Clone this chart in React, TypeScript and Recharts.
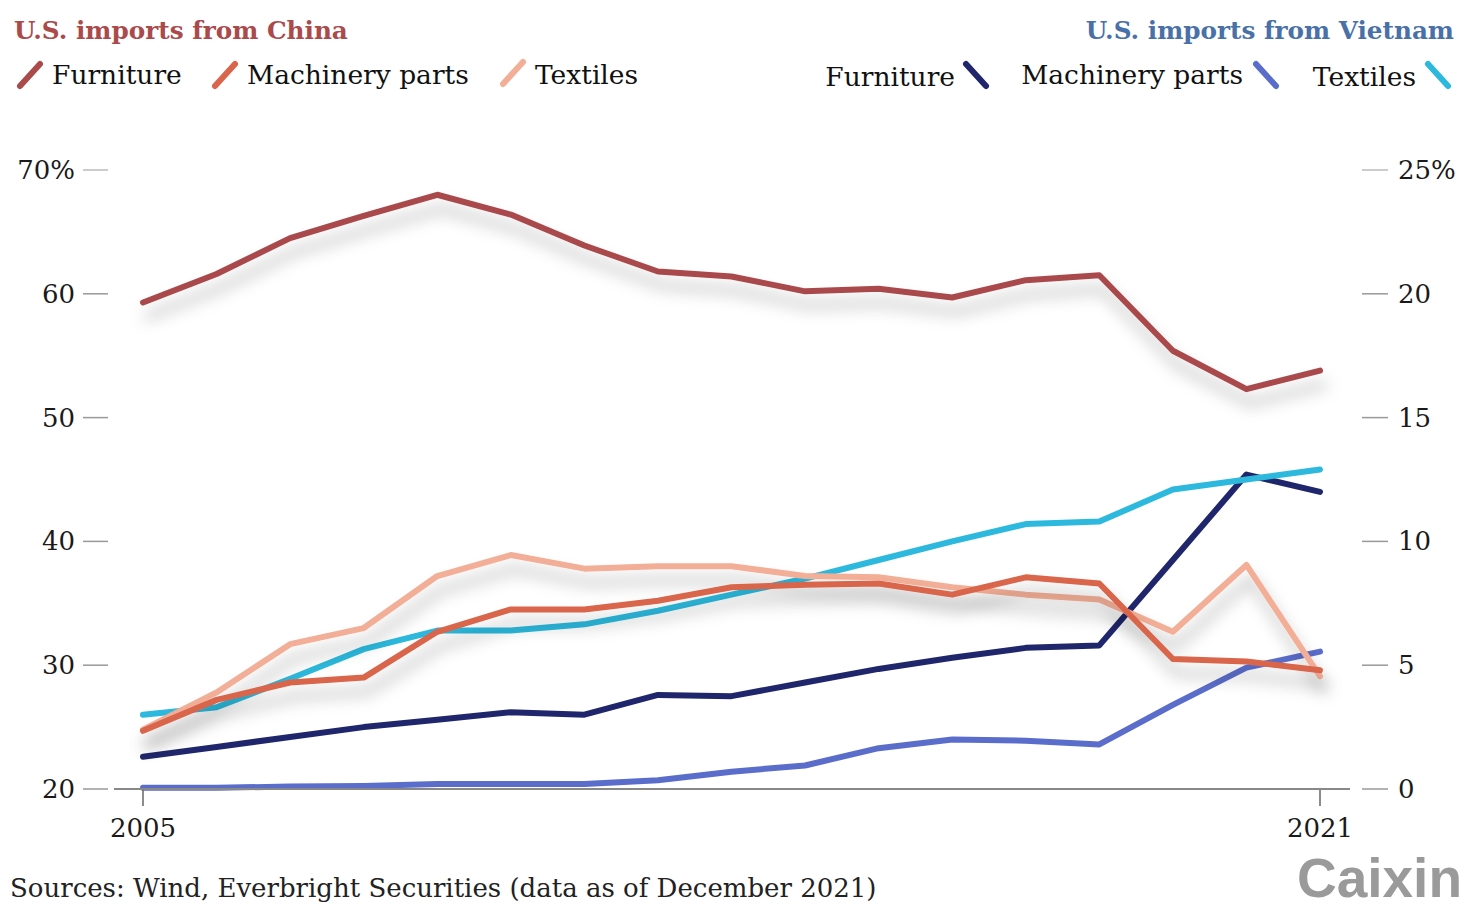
import React from 'react';
import { LineChart, Line, XAxis, YAxis } from 'recharts';

const years = [2005, 2006, 2007, 2008, 2009, 2010, 2011, 2012, 2013, 2014, 2015, 2016, 2017, 2018, 2019, 2020, 2021];

// U.S. imports from China (left axis, %)
const chinaFurniture = [59.3, 61.6, 64.5, 66.3, 68.0, 66.4, 63.9, 61.8, 61.4, 60.2, 60.4, 59.7, 61.1, 61.5, 55.4, 52.3, 53.8];
const chinaMachinery = [24.7, 27.2, 28.6, 29.0, 32.7, 34.5, 34.5, 35.2, 36.3, 36.5, 36.6, 35.7, 37.1, 36.6, 30.5, 30.3, 29.6];
const chinaTextiles = [24.8, 27.8, 31.7, 33.0, 37.2, 38.9, 37.8, 38.0, 38.0, 37.2, 37.1, 36.3, 35.7, 35.3, 32.7, 38.1, 29.1];

// U.S. imports from Vietnam (right axis, %)
const vnFurniture = [1.3, 1.7, 2.1, 2.5, 2.8, 3.1, 3.0, 3.8, 3.75, 4.3, 4.85, 5.3, 5.7, 5.8, 9.25, 12.7, 12.0];
const vnMachinery = [0.05, 0.05, 0.1, 0.12, 0.2, 0.2, 0.2, 0.35, 0.7, 0.95, 1.65, 2.0, 1.95, 1.8, 3.4, 4.9, 5.55];
const vnTextiles = [3.0, 3.3, 4.45, 5.65, 6.4, 6.4, 6.65, 7.2, 7.85, 8.5, 9.25, 10.0, 10.7, 10.8, 12.1, 12.5, 12.9];

const leftTicks = [20, 30, 40, 50, 60, 70];
const rightTicks = [0, 5, 10, 15, 20, 25];
const xTicks = [2005, 2021];

const data = years.map((y, i) => ({
  year: y,
  cF: chinaFurniture[i],
  cM: chinaMachinery[i],
  cT: chinaTextiles[i],
  vF: vnFurniture[i],
  vM: vnMachinery[i],
  vT: vnTextiles[i],
}));

const C_FURN = '#AA4A4B';
const C_MACH = '#D9654B';
const C_TEXT = '#F2AE96';
const V_FURN = '#1F266B';
const V_MACH = '#5A6DCB';
const V_TEXT = '#2CB9DD';

const FONT = '"DejaVu Serif", serif';
const SW = 6;

const LeftTick = (props: any) => {
  const { y, payload } = props;
  const v = payload.value;
  return (
    <g>
      <line x1={83} x2={108} y1={y} y2={y} stroke={v === 70 ? '#bbb' : '#999'} strokeWidth={1.5} />
      <text x={75} y={y} textAnchor="end" dominantBaseline="central" fontFamily={FONT} fontSize={26} fill="#1a1a1a">
        {v === 70 ? '70%' : String(v)}
      </text>
    </g>
  );
};

const RightTick = (props: any) => {
  const { y, payload } = props;
  const v = payload.value;
  return (
    <g>
      <line x1={1362} x2={1388} y1={y} y2={y} stroke={v === 25 ? '#bbb' : '#999'} strokeWidth={1.5} />
      <text x={1398} y={y} textAnchor="start" dominantBaseline="central" fontFamily={FONT} fontSize={26} fill="#1a1a1a">
        {v === 25 ? '25%' : String(v)}
      </text>
    </g>
  );
};

const BottomTick = (props: any) => {
  const { x, payload } = props;
  return (
    <g>
      <line x1={x} x2={x} y1={790} y2={806} stroke="#666" strokeWidth={1.5} />
      <text x={x} y={828} textAnchor="middle" dominantBaseline="central" fontFamily={FONT} fontSize={26} fill="#1a1a1a">
        {String(payload.value)}
      </text>
    </g>
  );
};

const LegIcon = ({ x, y, color, dir }: { x: number; y: number; color: string; dir: 1 | -1 }) => (
  <line
    x1={x}
    y1={dir === 1 ? y + 11 : y - 11}
    x2={x + 20}
    y2={dir === 1 ? y - 11 : y + 11}
    stroke={color}
    strokeWidth={6}
    strokeLinecap="round"
  />
);

export default function App() {
  return (
    <div style={{ position: 'absolute', left: 0, top: 0, width: 1469, height: 915, background: '#fff' }}>
      <svg width={0} height={0} style={{ position: 'absolute' }}>
        <defs>
          <filter id="lineShadow" x="-10%" y="-40%" width="120%" height="200%">
            <feDropShadow dx={4} dy={14} stdDeviation={8} floodColor="#000" floodOpacity={0.28} />
          </filter>
        </defs>
      </svg>
      <LineChart
        width={1469}
        height={915}
        data={data}
        margin={{ top: 170, right: 0, bottom: 66, left: 0 }}
      >
        <XAxis
          dataKey="year"
          type="number"
          domain={[2005, 2021]}
          ticks={xTicks}
          padding={{ left: 29, right: 30 }}
          height={60}
          axisLine={{ stroke: '#888', strokeWidth: 2 }}
          tickLine={false}
          tick={<BottomTick />}
          xAxisId="x"
        />
        <YAxis
          yAxisId="left"
          orientation="left"
          domain={[20, 70]}
          ticks={leftTicks}
          width={114}
          axisLine={false}
          tickLine={false}
          tick={<LeftTick />}
          interval={0}
        />
        <YAxis
          yAxisId="right"
          orientation="right"
          domain={[0, 25]}
          ticks={rightTicks}
          width={119}
          axisLine={false}
          tickLine={false}
          tick={<RightTick />}
          interval={0}
        />
        <Line xAxisId="x" yAxisId="right" dataKey="vM" stroke={V_MACH} strokeWidth={SW} dot={false} strokeLinecap="round" strokeLinejoin="round" isAnimationActive={false} />
        <Line xAxisId="x" yAxisId="right" dataKey="vF" stroke={V_FURN} strokeWidth={SW} dot={false} strokeLinecap="round" strokeLinejoin="round" isAnimationActive={false} />
        <Line xAxisId="x" yAxisId="right" dataKey="vT" stroke={V_TEXT} strokeWidth={SW} dot={false} strokeLinecap="round" strokeLinejoin="round" isAnimationActive={false} />
        <Line xAxisId="x" yAxisId="left" dataKey="cT" stroke={C_TEXT} strokeWidth={SW} dot={false} strokeLinecap="round" strokeLinejoin="round" filter="url(#lineShadow)" isAnimationActive={false} />
        <Line xAxisId="x" yAxisId="left" dataKey="cM" stroke={C_MACH} strokeWidth={SW} dot={false} strokeLinecap="round" strokeLinejoin="round" filter="url(#lineShadow)" isAnimationActive={false} />
        <Line xAxisId="x" yAxisId="left" dataKey="cF" stroke={C_FURN} strokeWidth={SW} dot={false} strokeLinecap="round" strokeLinejoin="round" filter="url(#lineShadow)" isAnimationActive={false} />
      </LineChart>
      <svg width={1469} height={915} style={{ position: 'absolute', left: 0, top: 0, pointerEvents: 'none' }}>
        <text x={14} y={39} fontFamily={FONT} fontWeight="bold" fontSize={24.7} fill="#AA4A4B">U.S. imports from China</text>
        <text x={1454} y={39} textAnchor="end" fontFamily={FONT} fontWeight="bold" fontSize={24.7} fill="#4A70A8">U.S. imports from Vietnam</text>

        <LegIcon x={20} y={75} color={C_FURN} dir={1} />
        <text x={52} y={84} fontFamily={FONT} fontSize={26.5} fill="#111">Furniture</text>
        <LegIcon x={215} y={75} color={C_MACH} dir={1} />
        <text x={247} y={84} fontFamily={FONT} fontSize={26.5} fill="#111">Machinery parts</text>
        <LegIcon x={503} y={73} color={C_TEXT} dir={1} />
        <text x={535} y={84} fontFamily={FONT} fontSize={26.5} fill="#111">Textiles</text>

        <text x={955} y={86} textAnchor="end" fontFamily={FONT} fontSize={26.5} fill="#111">Furniture</text>
        <LegIcon x={966} y={75} color={V_FURN} dir={-1} />
        <text x={1243} y={84} textAnchor="end" fontFamily={FONT} fontSize={26.5} fill="#111">Machinery parts</text>
        <LegIcon x={1256} y={75} color={V_MACH} dir={-1} />
        <text x={1416} y={86} textAnchor="end" fontFamily={FONT} fontSize={26.5} fill="#111">Textiles</text>
        <LegIcon x={1428} y={75} color={V_TEXT} dir={-1} />

        <text x={10} y={897} fontFamily={FONT} fontSize={26} fill="#222">Sources: Wind, Everbright Securities (data as of December 2021)</text>
        <text x={1462} y={897} textAnchor="end" fontFamily='"Liberation Sans", Arial, sans-serif' fontWeight="bold" fontSize={55} fill="#9a9a9a">Caixin</text>
      </svg>
    </div>
  );
}
